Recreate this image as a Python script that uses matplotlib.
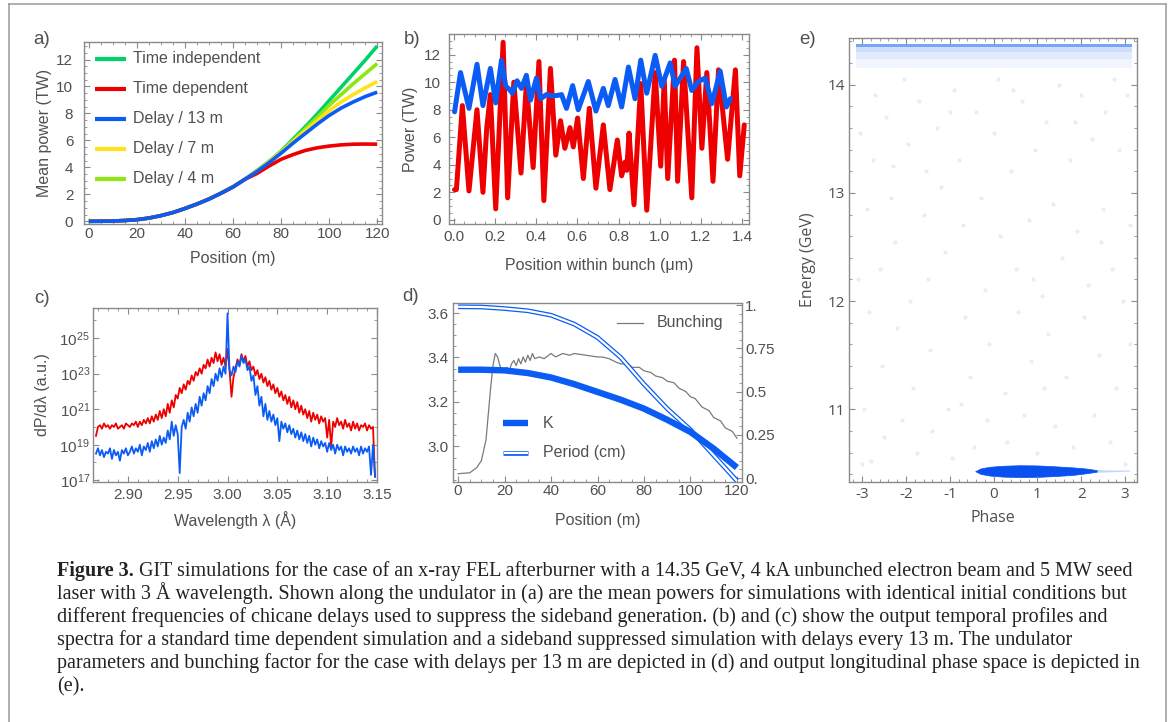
import matplotlib
matplotlib.use("Agg")
import matplotlib.pyplot as plt
import numpy as np
from matplotlib.ticker import MultipleLocator, FixedLocator, FuncFormatter, FixedFormatter, NullFormatter
from matplotlib.lines import Line2D

plt.rcParams['font.family'] = ['Liberation Sans', 'DejaVu Sans']
plt.rcParams['mathtext.fontset'] = 'custom'
plt.rcParams['mathtext.rm'] = 'Liberation Sans'
plt.rcParams['mathtext.it'] = 'Liberation Sans:italic'
plt.rcParams['mathtext.bf'] = 'Liberation Sans:bold'

# ---------------- data: panel a ----------------
pos_a = [0, 5, 10, 15, 20, 25, 30, 35, 40, 45, 50, 55, 60, 65, 70, 75, 80, 85, 90, 95, 100, 105, 110, 115, 120]
early_a = [0, 0.005, 0.02, 0.06, 0.12, 0.24, 0.42, 0.65, 0.95, 1.28, 1.65, 2.08, 2.55, 3.12]
time_indep = early_a + [3.78, 4.45, 5.2, 6.1, 7.0, 7.95, 8.95, 9.95, 10.95, 11.95, 13.0]
time_dep = early_a + [3.55, 4.1, 4.6, 4.95, 5.25, 5.45, 5.58, 5.67, 5.72, 5.73, 5.72]
delay13 = early_a + [3.7, 4.35, 5.05, 5.8, 6.5, 7.2, 7.85, 8.4, 8.85, 9.25, 9.58]
delay7 = early_a + [3.75, 4.42, 5.12, 5.9, 6.7, 7.45, 8.2, 8.85, 9.4, 9.9, 10.37]
delay4 = early_a + [3.75, 4.43, 5.15, 6.0, 6.85, 7.7, 8.6, 9.4, 10.2, 10.95, 11.7]
labels_a = ["Time independent", "Time dependent", "Delay / 13 m", "Delay / 7 m", "Delay / 4 m"]

# ---------------- data: panel b ----------------
red_b_x = [0.003, 0.012, 0.041, 0.073, 0.112, 0.141, 0.159, 0.177, 0.203, 0.239,
           0.261, 0.291, 0.326, 0.352, 0.385, 0.413, 0.437, 0.469, 0.495, 0.518,
           0.539, 0.564, 0.580, 0.601, 0.629, 0.658, 0.690, 0.726, 0.758, 0.794,
           0.815, 0.832, 0.840, 0.851, 0.875, 0.908, 0.937, 0.978, 1.005, 1.022,
           1.039, 1.072, 1.087, 1.116, 1.156, 1.181, 1.205, 1.229, 1.259, 1.286,
           1.330, 1.368, 1.389, 1.411]
red_b_y = [2.2, 2.2, 8.3, 2.1, 8.0, 2.0, 6.6, 9.1, 0.8, 12.9,
           1.6, 10.0, 3.4, 9.9, 3.8, 11.5, 1.4, 11.0, 4.7, 7.2,
           5.2, 6.7, 5.3, 7.4, 3.0, 8.1, 2.3, 6.9, 2.2, 5.8,
           3.2, 4.2, 3.6, 6.3, 1.1, 9.9, 0.7, 10.7, 3.9, 10.2,
           3.0, 11.6, 2.8, 11.5, 1.6, 12.5, 5.2, 10.7, 2.8, 10.9,
           4.4, 10.9, 3.2, 6.9]
blue_b_x = [0.003, 0.032, 0.073, 0.112, 0.141, 0.177, 0.203, 0.231, 0.252, 0.268,
            0.284, 0.307, 0.328, 0.352, 0.372, 0.401, 0.421, 0.450, 0.479, 0.507,
            0.523, 0.547, 0.577, 0.604, 0.653, 0.690, 0.726, 0.750, 0.783, 0.815,
            0.848, 0.880, 0.908, 0.937, 0.978, 1.010, 1.051, 1.075, 1.129, 1.156,
            1.189, 1.221, 1.254, 1.294, 1.324, 1.343]
blue_b_y = [7.85, 10.7, 8.1, 11.3, 8.3, 11.0, 8.5, 11.6, 9.7, 9.5,
            9.2, 10.1, 9.55, 10.5, 8.7, 10.3, 8.8, 9.1, 9.0, 9.05,
            9.1, 8.1, 9.75, 8.0, 10.05, 7.9, 9.55, 8.3, 10.2, 8.2,
            11.1, 8.8, 11.6, 9.2, 11.95, 9.7, 11.4, 9.7, 11.0, 9.4,
            10.05, 10.3, 8.45, 10.8, 8.2, 8.8]

# ---------------- data: panel c (log10 of dP/dlambda) ----------------
lam_start, lam_step = 2.868, 0.002
red_c_log = [19.5, 20.0, 20.1, 19.9, 20.2, 20.0, 20.1, 19.9, 20.1, 20.0,
             20.2, 19.9, 20.0, 20.1, 19.9, 20.2, 20.1, 20.0, 20.2, 20.1,
             20.3, 20.0, 20.3, 20.1, 20.4, 20.2, 20.5, 20.2, 20.6, 20.3,
             20.7, 20.4, 20.9, 20.5, 21.0, 20.6, 21.3, 20.8, 21.5, 21.1,
             21.8, 21.6, 22.2, 21.9, 22.4, 22.1, 22.6, 22.4, 22.9, 22.6,
             23.1, 22.9, 23.3, 23.0, 23.5, 23.3, 23.8, 23.4, 23.9, 23.6,
             24.2, 23.7, 24.1, 23.5, 23.9, 23.4, 24.4, 23.2, 21.7, 22.8,
             23.3, 23.8, 23.5, 24.1, 23.7, 24.0, 23.4, 23.7, 23.2, 23.4,
             22.9, 23.2, 22.7, 23.0, 22.5, 22.8, 22.3, 22.6, 22.1, 22.4,
             21.9, 22.2, 21.7, 22.0, 21.5, 21.8, 21.3, 21.7, 21.1, 21.5,
             21.0, 21.4, 20.8, 21.2, 20.7, 21.0, 20.5, 20.9, 20.3, 20.8,
             20.4, 20.7, 20.2, 20.6, 20.3, 20.5, 19.4, 20.4, 18.9, 20.3,
             20.0, 20.5, 20.1, 20.3, 19.9, 20.4, 20.0, 20.2, 19.8, 20.3,
             19.9, 20.2, 19.8, 20.1, 20.0, 20.2, 19.8, 20.1, 19.9, 20.0,
             17.2]
blue_c_log = [18.5, 18.8, 18.4, 18.7, 18.3, 18.6, 18.5, 18.8, 18.2, 18.7,
              18.4, 18.6, 18.1, 18.7, 18.5, 18.8, 18.4, 18.6, 18.9, 18.5,
              18.8, 18.6, 19.0, 18.4, 18.9, 18.7, 19.1, 18.6, 19.2, 18.8,
              19.3, 18.9, 19.5, 19.0, 19.4, 19.1, 19.8, 19.3, 20.3, 19.5,
              20.1, 19.6, 17.4, 20.0, 20.4, 19.9, 20.8, 20.3, 21.1, 20.6,
              21.3, 20.8, 21.7, 21.2, 21.9, 21.5, 22.3, 21.9, 22.7, 22.3,
              23.0, 22.6, 23.3, 22.8, 23.4, 23.0, 26.4, 23.2, 22.9, 23.4,
              23.1, 23.7, 23.4, 24.0, 23.6, 23.8, 23.2, 23.4, 22.6, 22.9,
              21.8, 22.3, 21.2, 21.7, 20.6, 21.3, 20.4, 20.9, 20.3, 20.7,
              20.1, 20.5, 19.2, 20.3, 19.9, 20.2, 19.7, 20.1, 19.6, 19.9,
              19.4, 19.8, 19.3, 19.7, 19.2, 19.6, 19.1, 19.5, 18.9, 19.4,
              19.0, 19.3, 18.8, 19.2, 18.9, 19.1, 18.6, 19.1, 18.7, 19.0,
              18.5, 19.0, 18.7, 18.9, 18.4, 18.9, 18.6, 18.8, 18.5, 18.9,
              18.6, 18.8, 18.4, 18.9, 18.5, 18.8, 18.6, 18.9, 17.3, 19.0,
              17.2]

# ---------------- data: panel d ----------------
pos_d = [0, 10, 20, 30, 40, 50, 60, 70, 80, 90, 100, 110, 120]
K_d = [3.345, 3.345, 3.342, 3.33, 3.31, 3.28, 3.245, 3.21, 3.17, 3.12, 3.065, 2.99, 2.905]
period_d = [3.628, 3.627, 3.62, 3.61, 3.59, 3.55, 3.49, 3.40, 3.28, 3.17, 3.075, 2.96, 2.845]
pos_bunch = [0, 5, 8, 10, 12, 13, 14, 15, 16, 17, 18, 19, 20, 21, 22, 23, 24, 25, 26, 27,
             28, 29, 30, 31, 32, 33, 35, 37, 40, 42, 45, 48, 50, 55, 60, 62, 65, 68, 70, 73,
             75, 78, 80, 83, 85, 88, 90, 93, 95, 98, 100, 102, 105, 108, 110, 113, 115, 118, 120]
bunching = [0.025, 0.03, 0.06, 0.10, 0.22, 0.37, 0.52, 0.65, 0.72, 0.70, 0.65, 0.62, 0.63, 0.64, 0.62, 0.66, 0.68, 0.65, 0.69, 0.66,
            0.70, 0.67, 0.71, 0.68, 0.72, 0.69, 0.70, 0.69, 0.72, 0.70, 0.72, 0.71, 0.72, 0.71, 0.70, 0.70, 0.69, 0.67, 0.66, 0.66,
            0.64, 0.64, 0.62, 0.61, 0.59, 0.58, 0.56, 0.55, 0.52, 0.50, 0.47, 0.46, 0.41, 0.39, 0.35, 0.33, 0.29, 0.27, 0.23]

# ---------------- data: panel e ----------------
band_phase = [-3.15, 3.15]
band_top = [14.375, 14.345, 14.30, 14.24]
band_bottom = [14.345, 14.30, 14.24, 14.15]
blob_phase = [-0.42, -0.3, -0.1, 0.2, 0.6, 1.0, 1.4, 1.8, 2.1, 2.35]
blob_upper = [10.43, 10.455, 10.47, 10.48, 10.485, 10.483, 10.475, 10.465, 10.455, 10.44]
blob_lower = [10.43, 10.405, 10.39, 10.38, 10.375, 10.377, 10.385, 10.395, 10.41, 10.425]
tail_phase = [2.35, 2.7, 3.1]
tail_upper = [10.445, 10.44, 10.44]
tail_lower = [10.42, 10.425, 10.43]
sparse_phase = [-3.05, -2.9, -2.85, -2.95, -3.0, -2.8, -2.7, -2.6, -2.55, -2.5, -2.45, -2.3, -2.25, -2.2, -2.1,
                -2.05, -1.95, -1.9, -1.85, -1.75, -1.7, -1.6, -1.5, -1.45, -1.4, -1.3, -1.2, -1.1, -1.05, -0.95,
                -0.9, -0.8, -0.7, -0.65, -0.55, -0.45, -0.4, -0.3, -0.2, -0.1, 0.0, 0.1, 0.15, 0.25, 0.3,
                0.4, 0.5, 0.55, 0.65, 0.7, 0.8, 0.85, 0.95, 1.0, 1.1, 1.2, 1.25, 1.35, 1.4, 1.5,
                1.55, 1.65, 1.75, 1.8, 1.9, 2.0, 2.05, 2.15, 2.25, 2.3, 2.4, 2.5, 2.55, 2.65, 2.7,
                2.8, 2.85, 2.95, 3.0, 3.05, 3.1, -2.75, -1.0, 0.45, 1.85, 2.75, -2.35, -0.15, 1.15, 2.45,
                -1.55, 0.9, -0.75, 3.1, -3.1]
sparse_energy = [13.55, 12.85, 11.9, 11.0, 10.5, 10.52, 13.9, 12.3, 11.4, 10.75, 13.7, 13.25, 12.55, 11.75, 10.9,
                 14.05, 13.45, 12.0, 11.2, 10.6, 13.85, 12.8, 12.2, 11.55, 10.8, 13.6, 13.05, 12.45, 11.0, 10.55,
                 13.95, 13.3, 12.7, 11.85, 11.3, 10.65, 13.75, 12.95, 12.1, 11.6, 13.55, 14.05, 12.6, 11.15, 10.7,
                 13.2, 12.3, 11.9, 13.85, 10.95, 12.75, 11.45, 13.4, 10.6, 12.05, 13.65, 11.7, 12.9, 10.85, 14.0,
                 12.4, 11.3, 13.3, 10.65, 12.65, 13.9, 11.85, 12.15, 13.5, 10.95, 11.5, 12.85, 13.75, 10.7, 12.3,
                 11.2, 13.4, 12.0, 10.5, 13.9, 11.6, 13.3, 13.75, 13.95, 13.65, 14.05, 12.95, 10.9, 11.2, 12.55,
                 13.2, 12.2, 11.05, 12.7, 12.2]

caption_bold = "Figure 3."
caption_lines = [
    " GIT simulations for the case of an x-ray FEL afterburner with a 14.35 GeV, 4 kA unbunched electron beam and 5 MW seed",
    "laser with 3 Å wavelength. Shown along the undulator in (a) are the mean powers for simulations with identical initial conditions but",
    "different frequencies of chicane delays used to suppress the sideband generation. (b) and (c) show the output temporal profiles and",
    "spectra for a standard time dependent simulation and a sideband suppressed simulation with delays every 13 m. The undulator",
    "parameters and bunching factor for the case with delays per 13 m are depicted in (d) and output longitudinal phase space is depicted in",
    "(e).",
]

# ---------------- figure ----------------
W, H = 1171, 722
fig = plt.figure(figsize=(W / 100, H / 100), dpi=100)
fig.patch.set_facecolor('white')

FRAME = '#8a8a8a'
TXT = '#505050'
BLUE = '#0a5cf5'
RED = '#ee0000'
TS = 11  # tick size
LS = 11.5  # label size


def add_ax(l, t, r, b):
    return fig.add_axes([l / W, 1 - b / H, (r - l) / W, (b - t) / H])


def style(ax, xpad=2, ypad=6, top=True, right=True):
    for s in ax.spines.values():
        s.set_color(FRAME)
        s.set_linewidth(1.0)
    ax.tick_params(which='both', direction='in', top=top, right=right, color=FRAME,
                   labelcolor=TXT, labelsize=TS)
    ax.tick_params(which='major', length=4.5, width=0.8)
    ax.tick_params(which='minor', length=2.5, width=0.6)
    ax.tick_params(axis='x', pad=xpad)
    ax.tick_params(axis='y', pad=ypad)


def px_label(ax, l, t, r, b, xlabel_y=None, ylabel_x=None):
    if xlabel_y is not None:
        ax.xaxis.set_label_coords(0.5, -(xlabel_y - b) / (b - t))
        ax.xaxis.label.set_va('center')
    if ylabel_x is not None:
        ax.yaxis.set_label_coords((ylabel_x - l) / (r - l), 0.5)
        ax.yaxis.label.set_va('center')


# ---- panel a ----
A = (84, 42, 382, 224)
axa = add_ax(*A)
cols_a = ['#00d26a', RED, BLUE, '#ffe21a', '#8ee612']
series_a = [time_indep, time_dep, delay13, delay7, delay4]
order = [0, 4, 3, 1, 2]
for i in order:
    axa.plot(pos_a, series_a[i], color=cols_a[i], lw=2.6, solid_capstyle='butt', zorder=3 + order.index(i))
axa.set_xlim(-2, 122)
axa.set_ylim(-0.2, 13.3)
axa.xaxis.set_major_locator(MultipleLocator(20))
axa.xaxis.set_minor_locator(MultipleLocator(5))
axa.yaxis.set_major_locator(MultipleLocator(2))
axa.yaxis.set_minor_locator(MultipleLocator(0.5))
style(axa, xpad=2.2, ypad=7.7)
axa.set_xlabel("Position (m)", fontsize=LS, color=TXT)
axa.set_ylabel("Mean power (TW)", fontsize=LS, color=TXT)
px_label(axa, *A, xlabel_y=259, ylabel_x=45)
for k, lab in enumerate(labels_a):
    yy = 1 - (59 + 30 * k - A[1]) / (A[3] - A[1])
    axa.plot([0.037, 0.141], [yy, yy], transform=axa.transAxes, color=cols_a[k], lw=3, solid_capstyle='butt')
    axa.text(0.165, yy, lab, transform=axa.transAxes, fontsize=11.5, color=TXT, va='center', ha='left')

# ---- panel b ----
B = (449, 34, 749, 224)
axb = add_ax(*B)
axb.plot(red_b_x, red_b_y, color=RED, lw=3.6, solid_joinstyle='round', solid_capstyle='round')
axb.plot(blue_b_x, blue_b_y, color=BLUE, lw=3.6, solid_joinstyle='round', solid_capstyle='round')
axb.set_xlim(-0.024, 1.434)
axb.set_ylim(-0.3, 13.5)
axb.xaxis.set_major_locator(MultipleLocator(0.2))
axb.xaxis.set_minor_locator(MultipleLocator(0.05))
axb.yaxis.set_major_locator(MultipleLocator(2))
axb.yaxis.set_minor_locator(MultipleLocator(0.5))
axb.xaxis.set_major_formatter(FuncFormatter(lambda v, p: f"{v:.1f}"))
style(axb, xpad=4.3, ypad=6)
axb.set_xlabel("Position within bunch (μm)", fontsize=LS, color=TXT)
axb.set_ylabel("Power (TW)", fontsize=LS, color=TXT)
px_label(axb, *B, xlabel_y=266, ylabel_x=411)

# ---- panel c ----
C = (93, 308, 377, 482)
axc = add_ax(*C)
lam_r = [lam_start + lam_step * i for i in range(len(red_c_log))]
lam_b = [lam_start + lam_step * i for i in range(len(blue_c_log))]
axc.plot(lam_r, [10.0 ** v for v in red_c_log], color=RED, lw=1.3)
axc.plot(lam_b, [10.0 ** v for v in blue_c_log], color=BLUE, lw=1.3)
axc.set_yscale('log')
axc.set_xlim(2.865, 3.150)
axc.set_ylim(10 ** 16.9, 10 ** 26.7)
axc.xaxis.set_major_locator(MultipleLocator(0.05))
axc.xaxis.set_minor_locator(MultipleLocator(0.01))
axc.xaxis.set_major_formatter(FuncFormatter(lambda v, p: f"{v:.2f}"))
axc.yaxis.set_major_locator(FixedLocator([10.0 ** e for e in (17, 19, 21, 23, 25)]))
axc.yaxis.set_minor_locator(FixedLocator([10.0 ** e for e in (18, 20, 22, 24, 26)]))
axc.yaxis.set_major_formatter(FuncFormatter(lambda v, p: r"$10^{%d}$" % round(np.log10(v))))
axc.yaxis.set_minor_formatter(NullFormatter())
style(axc, xpad=4.5, ypad=2.2)
axc.set_xlabel("Wavelength λ (Å)", fontsize=LS, color=TXT)
axc.set_ylabel("dP/dλ (a.u.)", fontsize=LS, color=TXT)
px_label(axc, *C, xlabel_y=520, ylabel_x=43)

# ---- panel d ----
D = (453, 303, 742, 482)
axd = add_ax(*D)
axd2 = axd.twinx()
axd2.plot(pos_bunch, bunching, color='#7a7a7a', lw=0.9)
axd.plot(pos_d, period_d, color=BLUE, lw=3.4, solid_capstyle='butt', zorder=3)
axd.plot(pos_d, period_d, color='white', lw=1.6, solid_capstyle='butt', zorder=4)
axd.plot(pos_d, K_d, color=BLUE, lw=4.6, solid_capstyle='butt', zorder=5)
axd.set_zorder(axd2.get_zorder() + 1)
axd.patch.set_visible(False)
axd.set_xlim(-2.2, 122.2)
axd.set_ylim(2.84, 3.645)
axd2.set_ylim(-0.023, 1.012)
axd.xaxis.set_major_locator(MultipleLocator(20))
axd.xaxis.set_minor_locator(MultipleLocator(5))
axd.yaxis.set_major_locator(MultipleLocator(0.2))
axd.yaxis.set_minor_locator(MultipleLocator(0.05))
axd.yaxis.set_major_formatter(FuncFormatter(lambda v, p: f"{v:.1f}"))
axd2.yaxis.set_major_locator(FixedLocator([0, 0.25, 0.5, 0.75, 1.0]))
axd2.yaxis.set_major_formatter(FixedFormatter(["0.", "0.25", "0.5", "0.75", "1."]))
axd2.yaxis.set_minor_locator(MultipleLocator(0.05))
style(axd, xpad=1.5, ypad=3, top=False, right=False)
for s in axd2.spines.values():
    s.set_visible(False)
axd2.tick_params(which='both', direction='in', color=FRAME, labelcolor=TXT, labelsize=TS, pad=2.2)
axd2.tick_params(which='major', length=4.5, width=0.8)
axd2.tick_params(which='minor', length=2.5, width=0.6)
axd.set_xlabel("Position (m)", fontsize=LS, color=TXT)
px_label(axd, *D, xlabel_y=520)
# legend entries
yK = 1 - (423 - D[1]) / (D[3] - D[1])
yP = 1 - (453 - D[1]) / (D[3] - D[1])
yB = 1 - (323 - D[1]) / (D[3] - D[1])
axd.plot([0.173, 0.26], [yK, yK], transform=axd.transAxes, color=BLUE, lw=4.6, solid_capstyle='butt', zorder=6)
axd.plot([0.173, 0.26], [yP, yP], transform=axd.transAxes, color=BLUE, lw=3.4, solid_capstyle='butt', zorder=6)
axd.plot([0.175, 0.258], [yP, yP], transform=axd.transAxes, color='white', lw=1.6, solid_capstyle='butt', zorder=7)
axd.plot([0.567, 0.657], [yB, yB], transform=axd.transAxes, color='#7a7a7a', lw=0.9, zorder=6)
axd.text(0.31, yK, "K", transform=axd.transAxes, fontsize=11.5, color=TXT, va='center')
axd.text(0.31, yP, "Period (cm)", transform=axd.transAxes, fontsize=11.5, color=TXT, va='center')
axd.text(0.706, yB, "Bunching", transform=axd.transAxes, fontsize=11.5, color=TXT, va='center')

# ---- panel e ----
E = (849, 38, 1137, 482)
axe = add_ax(*E)
band_alpha = [0.55, 0.2, 0.12, 0.06]
for tp, bt, al in zip(band_top, band_bottom, band_alpha):
    axe.fill_between(band_phase, [bt, bt], [tp, tp], color=BLUE, alpha=al, lw=0)
axe.scatter(sparse_phase, sparse_energy, s=9, color=BLUE, alpha=0.11, lw=0)
axe.fill_between(tail_phase, tail_lower, tail_upper, color=BLUE, alpha=0.25, lw=0)
axe.fill_between(blob_phase, blob_lower, blob_upper, color='#0a50f0', lw=0.5, edgecolor='#0a50f0')
axe.set_xlim(-3.3, 3.27)
axe.set_ylim(10.33, 14.43)
axe.xaxis.set_major_locator(MultipleLocator(1))
axe.xaxis.set_minor_locator(MultipleLocator(0.2))
axe.yaxis.set_major_locator(MultipleLocator(1))
axe.yaxis.set_minor_locator(MultipleLocator(0.2))
style(axe, xpad=3.6, ypad=3)
efont = ['Open Sans', 'DejaVu Sans']
for t in axe.get_xticklabels() + axe.get_yticklabels():
    t.set_family(efont)
axe.xaxis.set_major_formatter(FuncFormatter(lambda v, p: f"{int(round(v))}"))
axe.set_xlabel("Phase", fontsize=LS, color=TXT, family=efont)
axe.set_ylabel("Energy (GeV)", fontsize=LS, color=TXT, family=efont)
px_label(axe, *E, xlabel_y=518, ylabel_x=808)

# panel letters
for lab, (x, y) in zip(["a)", "b)", "c)", "d)", "e)"],
                       [(42, 40), (412, 40), (42, 298), (411, 297), (808, 40)]):
    fig.text(x / W, 1 - y / H, lab, fontsize=13.5, color=TXT, ha='center', va='center')

# figure border
bc = '#9a9a9a'
fig.add_artist(Line2D([8.5 / W, 8.5 / W], [0, 1 - 3.5 / H], color=bc, lw=1.1))
fig.add_artist(Line2D([8.5 / W, 1165.5 / W], [1 - 3.5 / H, 1 - 3.5 / H], color=bc, lw=1.1))
fig.add_artist(Line2D([1165.5 / W, 1165.5 / W], [0, 1 - 3.5 / H], color=bc, lw=1.1))

# caption
serif = ['Liberation Serif', 'DejaVu Serif']
renderer = fig.canvas.get_renderer()
probe = fig.text(0, 0, caption_lines[4], fontsize=10, family=serif)
wprobe = probe.get_window_extent(renderer).width
probe.remove()
cfs = 10 * (1140 - 57) / wprobe
x0 = 57
baselines = [576, 599, 622, 645, 668, 691]
tb = fig.text(x0 / W, 1 - baselines[0] / H, caption_bold, fontsize=cfs, family=serif,
              weight='bold', color='#222222', va='baseline', ha='left')
wb = tb.get_window_extent(renderer).width
fig.text((x0 + wb) / W, 1 - baselines[0] / H, caption_lines[0], fontsize=cfs, family=serif,
         color='#222222', va='baseline', ha='left')
for line, yb in zip(caption_lines[1:], baselines[1:]):
    fig.text(x0 / W, 1 - yb / H, line, fontsize=cfs, family=serif, color='#222222',
             va='baseline', ha='left')

fig.savefig("out.png", dpi=100, facecolor='white')
